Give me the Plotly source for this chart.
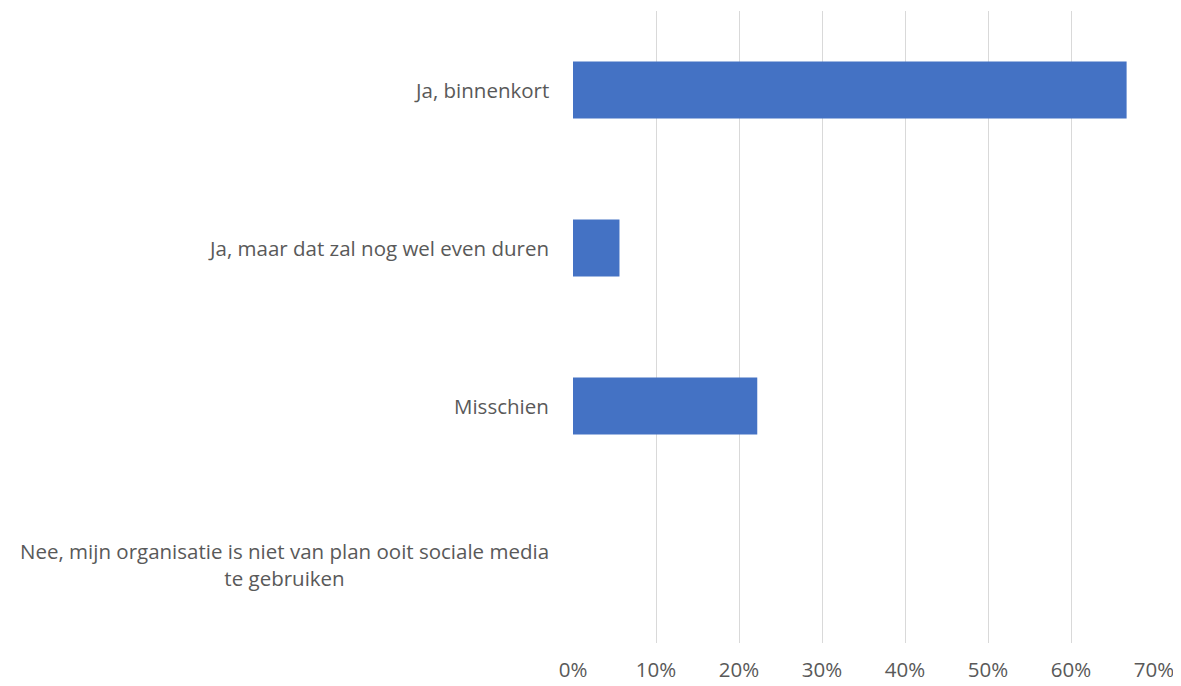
import plotly.graph_objects as go

categories = [
    "Ja, binnenkort",
    "Ja, maar dat zal nog wel even duren",
    "Misschien",
    "Nee, mijn organisatie is niet van plan ooit sociale media<br>te gebruiken",
]
values = [0.667, 0.056, 0.222, 0.0]
tick_vals = [0, 0.1, 0.2, 0.3, 0.4, 0.5, 0.6, 0.7]
tick_text = ["0%", "10%", "20%", "30%", "40%", "50%", "60%", "70%"]

FONT = "Open Sans"
TEXT_COLOR = "#595959"

fig = go.Figure(
    go.Bar(
        y=list(range(len(categories))),
        x=values,
        orientation="h",
        marker=dict(color="#4472C4", line=dict(width=0)),
        width=0.36,
    )
)

annotations = []
for i, c in enumerate(categories):
    annotations.append(
        dict(
            x=0, xref="paper", xshift=-22,
            y=i, yref="y",
            text=c, showarrow=False,
            xanchor="right", yanchor="middle", align="center",
            font=dict(family=FONT, size=20.5, color=TEXT_COLOR),
        )
    )

fig.update_layout(
    width=1173, height=678,
    margin=dict(l=565, r=27, t=3, b=43),
    paper_bgcolor="white", plot_bgcolor="white",
    showlegend=False,
    annotations=annotations,
    xaxis=dict(
        range=[0, 0.7], tickvals=tick_vals, ticktext=tick_text,
        showgrid=True, gridcolor="#d9d9d9", gridwidth=1.3,
        zeroline=False, showline=False,
        ticklabelstandoff=12,
        tickfont=dict(family=FONT, size=20.5, color=TEXT_COLOR),
    ),
    yaxis=dict(
        range=[3.5, -0.5], showticklabels=False, showgrid=False,
        zeroline=False, showline=False,
    ),
)

fig.write_html("out.html")
